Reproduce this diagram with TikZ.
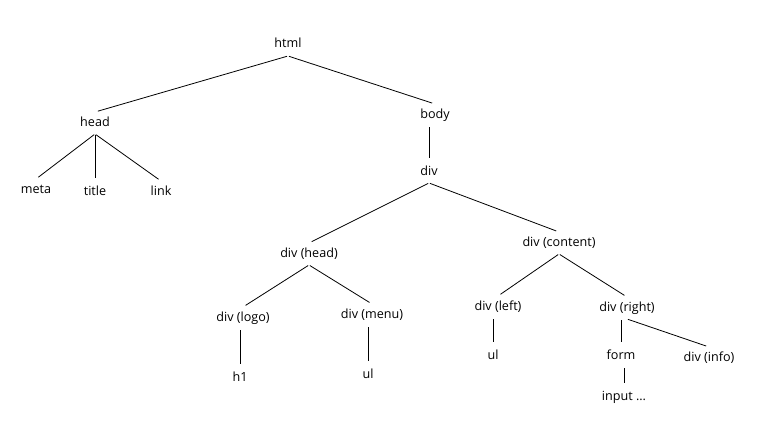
\documentclass[tikz,border=0pt]{standalone}
\usepackage{fontspec}
\setmainfont{Open Sans}
\usepackage{tikz}

\begin{document}
\begin{tikzpicture}[x=1pt,y=-1pt,
  tag/.style={inner sep=0pt, outer sep=0pt, text height=9pt, text depth=3pt, minimum height=22pt, font=\fontsize{12.6}{14}\selectfont},
  edge/.style={line width=0.8pt, shorten <=1pt, shorten >=3pt}]

\useasboundingbox (0,0) rectangle (767,420);

% top levels
\node [tag] (html) at (288,45) {html};
\node [tag] (head) at (95,123) {head};
\node [tag] (body) at (435,115) {body};
\node [tag] (meta) at (36,190) {meta};
\node [tag] (title) at (95,192) {title};
\node [tag] (link) at (161,192) {link};
\node [tag] (div) at (429,172) {div};

% body part
\node [tag] (divhead) at (309,254) {div (head)};
\node [tag] (divcontent) at (559,243) {div (content)};
\node [tag] (divlogo) at (243,318) {div (logo)};
\node [tag] (divmenu) at (372,315) {div (menu)};
\node [tag] (hone) at (240,378) {h1};
\node [tag] (ulmenu) at (368,375) {ul};
\node [tag] (divleft) at (498,307) {div (left)};
\node [tag] (ulleft) at (493,356) {ul};
\node [tag] (divright) at (627,308) {div (right)};
\node [tag] (form) at (621,356) {form};
\node [tag] (divinfo) at (709,358) {div (info)};
\node [tag] (input) at (624,397) {input ...};

% slanted edges
\foreach \a/\b in {html/head, html/body, head/meta, head/link,
  div/divhead, div/divcontent, divhead/divlogo, divhead/divmenu,
  divcontent/divleft, divcontent/divright, divright/divinfo}
{
\draw [edge] (\a.south) -- (\b.north);
}

% straight down
\foreach \a/\b in {head/title, body/div, divlogo/hone, divmenu/ulmenu,
  divleft/ulleft, divright/form, form/input}
{
\draw [edge] (\a.south -| \b.north) -- (\b.north);
}

\end{tikzpicture}
\end{document}
